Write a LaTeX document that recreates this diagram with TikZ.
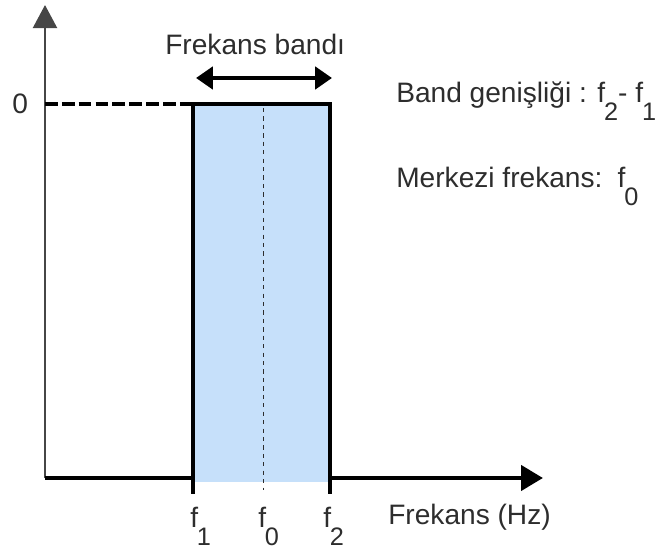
\documentclass[tikz,border=0pt]{standalone}
\usepackage{fontspec}
\setmainfont{Liberation Sans}
\usetikzlibrary{arrows.meta,positioning,calc}
\definecolor{bandblue}{RGB}{198,224,250}
\definecolor{labelgray}{RGB}{45,45,45}
\definecolor{axisgray}{RGB}{70,70,70}
\newcommand{\lowsub}[1]{\kern-0.04em\raisebox{-0.62em}{\fontsize{18}{20}\selectfont #1}}

\begin{document}
\begin{tikzpicture}[>=Stealth, font=\fontsize{20}{24}\selectfont,
  lbl/.style={text=labelgray, inner sep=0pt, anchor=base west},
  heavy/.style={line width=3.5pt, line join=miter}]
\useasboundingbox (0,0) rectangle (16.625,13.8);
% corners of the band
\coordinate (O) at (1.125,1.85);
\coordinate (ytip) at (1.125,13.675);
\coordinate (xtip) at (13.575,1.85);
\coordinate (A) at (4.825,1.85);
\coordinate (B) at (8.25,1.85);
\coordinate (C) at (8.25,11.2);
\coordinate (D) at (4.825,11.2);
\coordinate (Z) at (1.125,11.2);
\coordinate (Atick) at (4.825,1.45);
\coordinate (Btick) at (8.25,1.45);
\coordinate (mtop) at (6.575,11.1);
\coordinate (mbot) at (6.575,1.55);
\coordinate (bl) at (4.9,11.85);
\coordinate (br) at (8.3,11.85);
% band fill
\fill[bandblue] (4.825,1.75) rectangle (C);
\draw[dashed, thin, labelgray] (mtop) -- (mbot);
% axes and band edges
\draw[line width=2pt, axisgray, -{Triangle[width=0.6cm,length=0.58cm]}] (O) -- (ytip);
\draw[line width=2.8pt, dash pattern=on 9pt off 3pt] (Z) -- (D);
\draw[heavy, -{Triangle[width=0.62cm,length=0.55cm]}] (O) -- (A) -- (D) -- (C) -- (B) -- (xtip);
\draw[heavy] (A) -- (Atick);
\draw[heavy] (B) -- (Btick);
\draw[heavy, {Triangle[width=0.55cm,length=0.42cm]}-{Triangle[width=0.55cm,length=0.42cm]}] (bl) -- (br);
% labels
\node[lbl] (zero) at (0.3,10.95) {0};
\node[lbl] (bandname) at (4.125,12.425) {Frekans bandı};
\node[lbl] (width) at (9.9,11.225) {Band genişliği : f\lowsub{2}- f\lowsub{1}};
\node[lbl] (centre) at (9.9,9.1) {Merkezi frekans:\, f\lowsub{0}};
\node[lbl] (f1) at (4.75,0.6) {f\lowsub{1}};
\node[lbl] (f0) at (6.45,0.6) {f\lowsub{0}};
\node[lbl] (f2) at (8.075,0.6) {f\lowsub{2}};
\node[lbl] (xname) at (9.7,0.675) {Frekans (Hz)};
\end{tikzpicture}
\end{document}
